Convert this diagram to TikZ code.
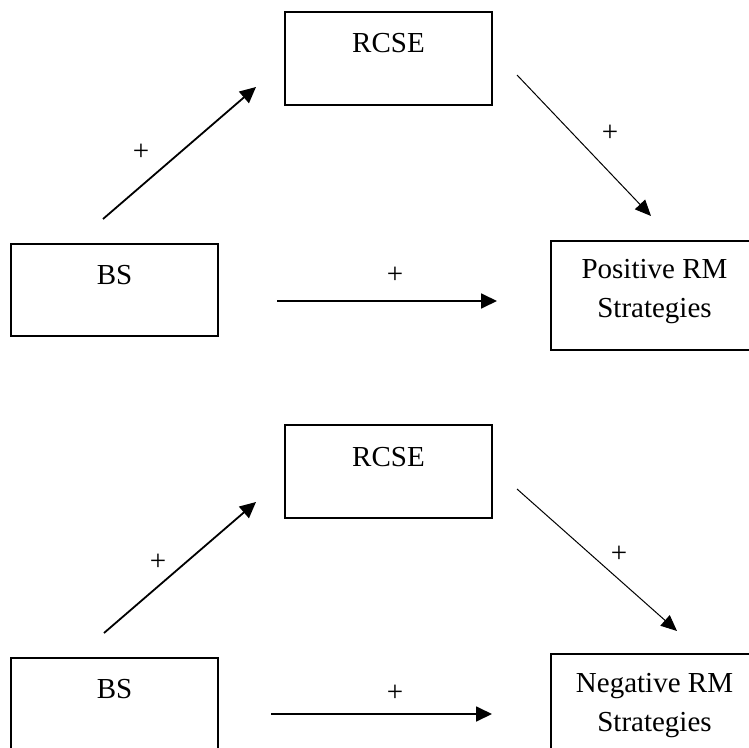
\documentclass[tikz,border=0pt]{standalone}
\usepackage{fontspec}
\setmainfont{Liberation Serif}
\usetikzlibrary{arrows.meta}
\tikzset{
  kasten/.style={draw, line width=0.6pt, minimum width=103.5pt, inner sep=0pt, align=center},
  zeile/.style={text height=10pt, text depth=15.5pt},
  zweizeilen/.style={text height=30pt, text depth=7.5pt},
  pfeil/.style={-{Triangle[length=8pt,width=7.5pt]}, line width=0.9pt},
  duennpfeil/.style={-{Triangle[length=8pt,width=7pt]}, line width=0.5pt}
}
\begin{document}
\begin{tikzpicture}[x=0.5pt, y=-0.5pt, every node/.style={font=\fontsize{14.5}{19.5}\selectfont}]
            \useasboundingbox (0,0) rectangle (749,748);

            % Oberes Modell: positive Strategien
            \node[kasten, zeile, minimum height=46.5pt] (rcseA) at (388.5,58.5) {RCSE};
            \node[kasten, zeile, minimum height=46pt] (bsA) at (114.5,290) {BS};
            \node[kasten, zweizeilen, minimum height=54.5pt] (posA) at (654.5,295.5) {Positive RM\\Strategies};

            \coordinate (a1s) at (103,219);
            \coordinate (a1e) at (256,87);
            \coordinate (a2s) at (517,75);
            \coordinate (a2e) at (651,216);
            \coordinate (a3s) at (277,301);
            \coordinate (a3e) at (497,301);

            \draw[pfeil] (a1s) -- (a1e);
            \draw[duennpfeil] (a2s) -- (a2e);
            \draw[pfeil] (a3s) -- (a3e);

            \node (plA1) at (141,152) {+};
            \node (plA2) at (610,133) {+};
            \node (plA3) at (395,275) {+};

            % Unteres Modell: negative Strategien
            \node[kasten, zeile, minimum height=46.5pt] (rcseB) at (388.5,471.5) {RCSE};
            \node[kasten, zeile, minimum height=46pt] (bsB) at (114.5,704) {BS};
            \node[kasten, zweizeilen, minimum height=54.5pt] (negB) at (654.5,708.5) {Negative RM\\Strategies};

            \coordinate (b1s) at (104,633);
            \coordinate (b1e) at (256,502);
            \coordinate (b2s) at (517,489);
            \coordinate (b2e) at (677,631);
            \coordinate (b3s) at (271,714);
            \coordinate (b3e) at (492,714);

            \draw[pfeil] (b1s) -- (b1e);
            \draw[duennpfeil] (b2s) -- (b2e);
            \draw[pfeil] (b3s) -- (b3e);

            \node (plB1) at (158,562) {+};
            \node (plB2) at (619,554) {+};
            \node (plB3) at (395,693) {+};
        \end{tikzpicture}
\end{document}
